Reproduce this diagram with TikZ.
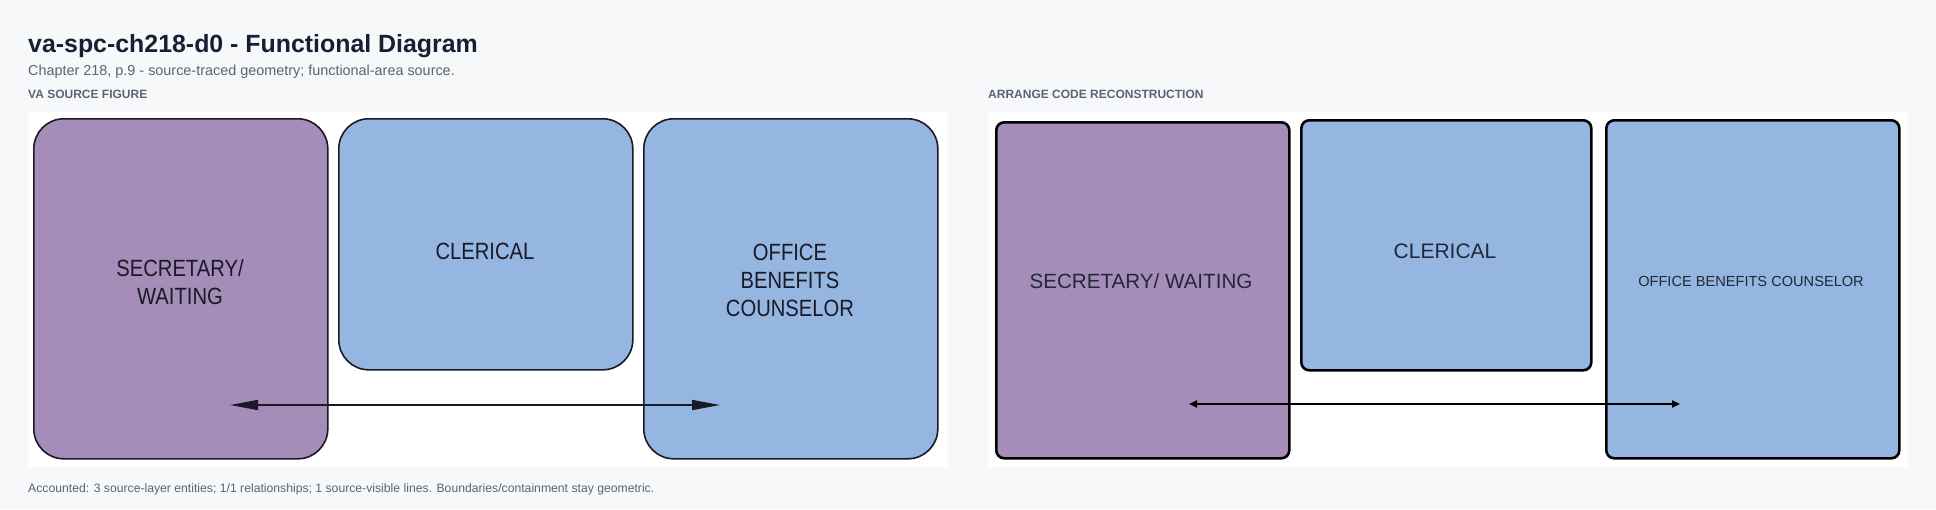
\documentclass[tikz,border=0pt]{standalone}
\usepackage{fontspec}
\setmainfont{Liberation Sans}
\newfontfamily\narrowfont[FakeStretch=0.86]{Liberation Sans}
\usetikzlibrary{arrows.meta}
\definecolor{pagebg}{HTML}{F7F8FA}
\definecolor{purp}{HTML}{A68CB8}
\definecolor{blu}{HTML}{95B6E0}
\definecolor{titlec}{HTML}{172033}
\definecolor{subc}{HTML}{5B6472}
\definecolor{ink}{HTML}{1A1A26}
\definecolor{ink2}{HTML}{1F2937}
\begin{document}
\begin{tikzpicture}[x=1pt,y=-1pt,
  srcbox/.style={draw=ink, line width=1.6pt, rounded corners=30pt, inner sep=0pt, anchor=north west},
  recbox/.style={draw=black, line width=2.6pt, rounded corners=8pt, inner sep=0pt, anchor=north west},
  srctext/.style={text=ink, align=center, inner sep=0pt, font=\narrowfont\fontsize{23.5}{28}\selectfont},
  rectext/.style={text=ink2, align=center, inner sep=0pt},
  heading/.style={anchor=base west, inner sep=0pt},
  srcarrow/.style={draw=ink, line width=1.6pt, {Triangle[length=28pt,width=10pt]}-{Triangle[length=28pt,width=10pt]}},
  recarrow/.style={draw=black, line width=1.8pt, {Triangle[length=8pt,width=7pt]}-{Triangle[length=8pt,width=7pt]}}
]
\useasboundingbox (0,0) rectangle (1936,509);
\fill[pagebg] (0,0) rectangle (1936,509);

% headings
\node[heading, text=titlec, font=\bfseries\fontsize{24.9}{30}\selectfont] (title) at (28,52) {va-spc-ch218-d0 - Functional Diagram};
\node[heading, text=subc, font=\fontsize{14.4}{17}\selectfont] (subtitle) at (28,75) {Chapter 218, p.9 - source-traced geometry; functional-area source.};
\node[heading, text=subc, font=\bfseries\fontsize{12}{14}\selectfont] (lbl1) at (28,98) {VA SOURCE FIGURE};
\node[heading, text=subc, font=\bfseries\fontsize{12}{14}\selectfont] (lbl2) at (988,98) {ARRANGE CODE RECONSTRUCTION};
\node[heading, text=subc, font=\fontsize{12.2}{14}\selectfont] (footer) at (28,492) {Accounted: 3 source-layer entities; 1/1 relationships; 1 source-visible lines. Boundaries/containment stay geometric.};

% panels
\node[fill=white, inner sep=0pt, anchor=north west, minimum width=920pt, minimum height=355pt] (panel1) at (28,112) {};
\node[fill=white, inner sep=0pt, anchor=north west, minimum width=920pt, minimum height=355pt] (panel2) at (988,112) {};

% source figure
\node[srcbox, fill=purp, minimum width=294pt, minimum height=340pt] (s1) at (33,118) {};
\node[srcbox, fill=blu, minimum width=294pt, minimum height=251pt] (s2) at (338,118) {};
\node[srcbox, fill=blu, minimum width=294pt, minimum height=340pt] (s3) at (643,118) {};
\node[srctext] (s1t) at (180,282) {SECRETARY/\\WAITING};
\node[srctext] (s2t) at (485,251) {CLERICAL};
\node[srctext] (s3t) at (790,280) {OFFICE\\BENEFITS\\COUNSELOR};
\coordinate (sa) at (230,405);
\coordinate (sb) at (720,405);
\draw[srcarrow] (sa) -- (sb);

% reconstruction
\node[recbox, fill=purp, minimum width=293pt, minimum height=336pt] (r1) at (995,121) {};
\node[recbox, fill=blu, minimum width=290pt, minimum height=250pt] (r2) at (1300,119) {};
\node[recbox, fill=blu, minimum width=293pt, minimum height=338pt] (r3) at (1605,119) {};
\node[rectext, font=\fontsize{20.6}{24}\selectfont] (r1t) at (1141,281) {SECRETARY/ WAITING};
\node[rectext, font=\fontsize{21}{24}\selectfont] (r2t) at (1445,251) {CLERICAL};
\node[rectext, font=\fontsize{14.6}{17}\selectfont] (r3t) at (1751,281) {OFFICE BENEFITS COUNSELOR};
\coordinate (ra) at (1189,404);
\coordinate (rb) at (1680,404);
\draw[recarrow] (ra) -- (rb);
\end{tikzpicture}
\end{document}
